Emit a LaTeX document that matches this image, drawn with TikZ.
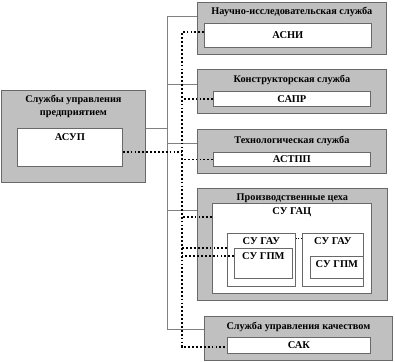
\documentclass[tikz,border=0pt]{standalone}
\usepackage{fontspec}
\setmainfont{Liberation Serif}
\usepackage{tikz}
\usetikzlibrary{positioning}
\definecolor{servicegray}{RGB}{192,192,192}
\definecolor{edgegray}{RGB}{105,105,105}
\definecolor{wiregray}{RGB}{128,128,128}

\begin{document}
\begin{tikzpicture}[
    x=1bp, y=-1bp,
    service/.style={rectangle, draw=edgegray, fill=servicegray, line width=0.8bp,
        anchor=north west, inner sep=0pt},
    system/.style={rectangle, draw=edgegray, fill=white, line width=0.8bp,
        anchor=north west, inner sep=0pt, font=\fontsize{10.5}{12}\selectfont\bfseries},
    caption/.style={inner sep=0pt, text height=7bp, text depth=2bp,
        font=\fontsize{10.3}{13}\selectfont\bfseries},
    syscap/.style={inner sep=0pt, text height=7bp, text depth=2bp,
        font=\fontsize{10.5}{12}\selectfont\bfseries},
    wire/.style={draw=wiregray, line width=0.7bp},
    dotwire/.style={draw=black, line width=1.8bp, dash pattern=on 1.8bp off 2.1bp}
]
    \useasboundingbox (0,0) rectangle (395,362);

    % Left block
    \node[service, minimum width=144bp, minimum height=92bp] (upr) at (1,90) {};
    \node[caption, align=center, text height=, text depth=, below=5bp of upr.north] (uprt)
        {Службы управления\\предприятием};
    \node[system, minimum width=105bp, minimum height=38bp] (asup) at (17,128) {};
    \node[syscap, below=5.5bp of asup.north] (asupt) {АСУП};

    % Right column
    \node[service, minimum width=189bp, minimum height=52bp] (nir) at (197,2) {};
    \node[caption, below=5.5bp of nir.north] (nirt) {Научно-исследовательская служба};
    \node[system, minimum width=167bp, minimum height=24bp] (asni) at (204,23) {АСНИ};

    \node[service, minimum width=189bp, minimum height=44bp] (kon) at (197,69) {};
    \node[caption, below=6.5bp of kon.north] (kont) {Конструкторская служба};
    \node[system, minimum width=157bp, minimum height=15bp] (sapr) at (213,91) {САПР};

    \node[service, minimum width=189bp, minimum height=44bp] (teh) at (197,129) {};
    \node[caption, below=7.5bp of teh.north] (teht) {Технологическая служба};
    \node[system, minimum width=157bp, minimum height=14bp] (astpp) at (213,152) {АСТПП};

    \node[service, minimum width=190bp, minimum height=112bp] (proizv) at (197,188) {};
    \node[caption, below=5bp of proizv.north] (proizvt) {Производственные цеха};
    \node[system, minimum width=159bp, minimum height=90bp] (sugac) at (212,203) {};
    \node[syscap, below=4.5bp of sugac.north] (sugact) {СУ ГАЦ};
    \node[system, minimum width=68bp, minimum height=53bp] (sugau1) at (227,233) {};
    \node[syscap, below=4.5bp of sugau1.north] (sugau1t) {СУ ГАУ};
    \node[system, minimum width=58bp, minimum height=30bp] (sugpm1) at (234,248) {};
    \node[syscap, below=4.5bp of sugpm1.north] (sugpm1t) {СУ ГПМ};
    \node[system, minimum width=61bp, minimum height=53bp] (sugau2) at (302,233) {};
    \node[syscap, below=4.5bp of sugau2.north] (sugau2t) {СУ ГАУ};
    \node[system, minimum width=53bp, minimum height=22bp] (sugpm2) at (310,256) {};
    \node[syscap, below=4.5bp of sugpm2.north] (sugpm2t) {СУ ГПМ};

    \node[service, minimum width=188bp, minimum height=44bp] (kach) at (204,316) {};
    \node[caption, below=6.5bp of kach.north] (kacht) {Служба управления качеством};
    \node[system, minimum width=143bp, minimum height=16bp] (sak) at (227,337) {САК};

    % Bus lines
    \coordinate (bus) at (167,0);
    \coordinate (dbus) at (182,0);
    \path (nir.north west) ++(0,14) coordinate (nirin);
    \path (kon.north west) ++(0,15) coordinate (konin);
    \path (teh.north west) ++(0,14) coordinate (tehin);
    \path (proizv.north west) ++(0,22) coordinate (proizvin);
    \path (kach.north west) ++(0,13) coordinate (kachin);
    \path (asni.north west) ++(0,9) coordinate (asniin);
    \path (sugac.north west) ++(0,14) coordinate (sugacin);
    \path (sugau1.north west) ++(0,15) coordinate (sugau1in);
    \path (sugpm1.north west) ++(0,8) coordinate (sugpm1in);
    \path (sak.north west) ++(0,10) coordinate (sakin);
    \path (asup.north east) ++(0,24) coordinate (asupout);
    \path (sugau1.north east) ++(0,5) coordinate (gauout);

    \draw[wire] (nirin) -| (bus |- kachin) -- (kachin);
    \draw[wire] (konin) -- (konin -| bus);
    \draw[wire] (tehin) -- (tehin -| bus);
    \draw[wire] (proizvin) -- (proizvin -| bus);
    \draw[wire] (upr.east |- asup.north) -- (bus |- asup.north);

    \draw[dotwire] (asniin) -| (dbus |- sakin) -- (sakin);
    \draw[dotwire] (sapr.west) -- (sapr.west -| dbus);
    \draw[dotwire] (astpp.west) -- (astpp.west -| dbus);
    \draw[dotwire] (sugacin) -- (sugacin -| dbus);
    \draw[dotwire] (sugau1in) -- (sugau1in -| dbus);
    \draw[dotwire] (sugpm1in) -- (sugpm1in -| dbus);
    \draw[dotwire] (asupout) -- (asupout -| dbus);
    \draw[dotted, line width=0.6bp] (gauout) -- (gauout -| sugau2.west);
\end{tikzpicture}
\end{document}
